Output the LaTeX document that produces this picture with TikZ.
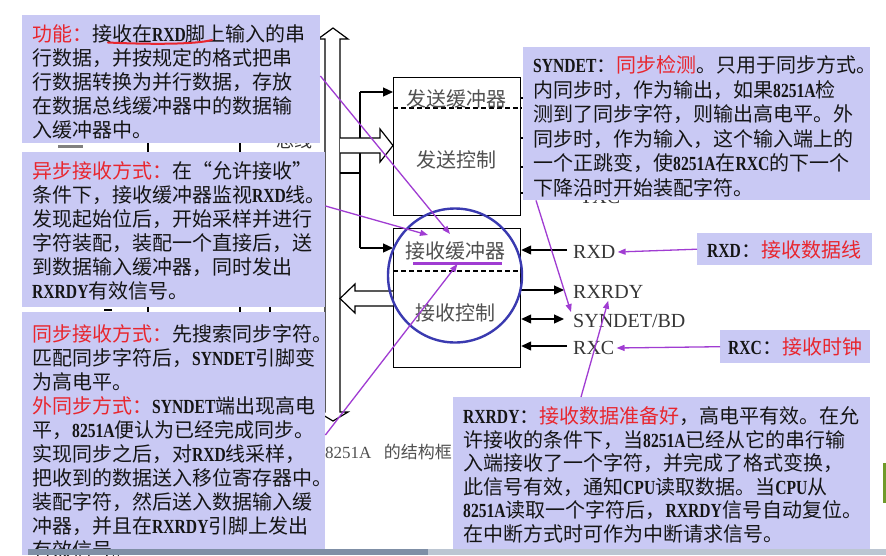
\documentclass[tikz,border=0pt]{standalone}
\usepackage{fontspec}
\usetikzlibrary{arrows.meta,calc}
\newfontfamily\cjk{Noto Sans CJK SC}
\newfontfamily\ltnf[FakeStretch=0.78]{Liberation Serif}
\newfontfamily\lab{Liberation Serif}
\newcommand\ltn[1]{{\ltnf\bfseries #1}}
\definecolor{ink}{HTML}{151515}
\definecolor{hot}{HTML}{E8262E}
\definecolor{note}{HTML}{C9C9F4}
\definecolor{grape}{HTML}{A03CD2}
\definecolor{ringblue}{HTML}{3A3AB0}
\definecolor{labgrey}{HTML}{363636}
\definecolor{blockgrey}{HTML}{505050}
\definecolor{stripdark}{HTML}{7F8FA6}
\definecolor{striplight}{HTML}{BCC6D2}
\definecolor{leaf}{HTML}{6F9A2A}
\newcommand\hot[1]{\textcolor{hot}{#1}}
% one line of a note box per list entry
\newcommand\notelines[5]{%
  \foreach \lne [count=\i] in {#5} {%
    \pgfmathsetmacro\yy{#3+#4*(\i-1)}%
    \node[boxtxt] (#1-\i) at (#2,\yy) {\lne};}}
\tikzset{
  boxtxt/.style={anchor=base west, inner sep=0pt, text=ink,
    font=\cjk\fontsize{20}{24}\selectfont},
  notebox/.style={fill=note, draw=none, anchor=north west, inner sep=0pt},
  block/.style={draw, line width=1.2pt, fill=white, anchor=north west, inner sep=0pt},
  blocktxt/.style={text=blockgrey, font=\cjk\fontsize{20}{24}\selectfont, inner sep=1pt},
  pinlab/.style={text=labgrey, font=\lab\fontsize{20}{24}\selectfont, anchor=west, inner sep=2pt},
  wire/.style={line width=1.2pt},
  pinarrow/.style={line width=1.2pt, -{Triangle[length=10pt,width=9pt]}},
  pinboth/.style={line width=1.2pt, {Triangle[length=10pt,width=9pt]}-{Triangle[length=10pt,width=9pt]}},
  hollow/.style={line width=1.2pt, fill=white, line join=miter},
  pointer/.style={grape, line width=1.3pt, -{Triangle[length=8pt,width=6pt]}},
}
\begin{document}
\begin{tikzpicture}[x=1pt, y=-1pt]
\useasboundingbox (0,0) rectangle (886,555);
\fill[white] (0,0) rectangle (886,555);

% pin lines of the chip that run behind the note boxes
\draw[wire] (148,138) -- (148,318);
\draw[wire] (240,138) -- (240,318);
\draw[wire] (270,295) -- (270,318);
\draw[wire] (104,310) -- (112,310);
\draw[line width=3pt, gray] (58,146) -- (83,146);
\node[text=labgrey, font=\cjk\fontsize{18}{20}\selectfont, inner sep=0pt] (busname) at (294,141) {总线};
\node[text=labgrey, font=\lab\fontsize{20}{24}\selectfont, anchor=base west, inner sep=0pt] (txc) at (580,203.5) {TXC};
\foreach \yy in {98,138,167,193} \draw[wire] (520,\yy) -- (532,\yy);

% internal data bus
\draw[hollow] (325,39) -- (318,39) -- (333,28) -- (348,39) -- (340,39) -- (340,412)
  -- (348,412) -- (333,421) -- (318,412) -- (325,412) -- cycle;
\draw[wire] (360,92) -- (360,248);
\draw[wire] (340,173) -- (360,173);

% transmit and receive blocks
\node[block, minimum width=127pt, minimum height=138pt] (tx) at (393,77) {};
\node[block, minimum width=127pt, minimum height=139pt] (rx) at (393,228) {};
\draw[wire, dash pattern=on 5pt off 3pt] (tx.west |- 0,108) -- (tx.east |- 0,108);
\draw[wire, dash pattern=on 5pt off 3pt] (rx.west |- 0,271) -- (rx.east |- 0,271);
\node[blocktxt] (txbuf) at (456,99) {发送缓冲器};
\node[blocktxt] (txctl) at (456,160) {发送控制};
\node[blocktxt] (rxbuf) at (455,251) {接收缓冲器};
\node[blocktxt] (rxctl) at (455,313) {接收控制};

% bus taps
\coordinate (tapT) at (360,92);
\coordinate (tapR) at (360,248);
\draw[pinarrow] (tapT) -- (tapT -| tx.west);
\draw[pinarrow] (tapR) -- (tapR -| rx.west);
\draw[hollow] (340,138) -- (380,138) -- (380,129) -- (393,145.5) -- (380,162) -- (380,153) -- (340,153);
\draw[hollow] (393,291) -- (355,291) -- (355,284) -- (340,298.5) -- (355,313) -- (355,306) -- (393,306);

% receiver pins
\node[pinlab] (rxdl) at (571,252) {RXD};
\node[pinlab] (rxrdyl) at (571,292) {RXRDY};
\node[pinlab] (syndetl) at (571,321) {SYNDET/BD};
\node[pinlab] (rxcl) at (571,348) {RXC};
\coordinate (pRXD) at (567,250);
\coordinate (pRXRDY) at (564,290);
\coordinate (pSYN) at (564,319);
\coordinate (pRXC) at (567,346);
\draw[pinarrow] (pRXD) -- (pRXD -| rx.east);
\draw[pinarrow] (pRXRDY -| rx.east) -- (pRXRDY);
\draw[pinboth] (pSYN -| rx.east) -- (pSYN);
\draw[pinarrow] (pRXC) -- (pRXC -| rx.east);

% caption
\node[anchor=base west, inner sep=0pt, text=blockgrey] (cap) at (325,458)
  {{\lab\fontsize{17}{20}\selectfont 8251A}\hspace{12.5pt}{\cjk\fontsize{17}{20}\selectfont 的结构框图}};

% note boxes
\node[notebox, minimum width=298pt, minimum height=128pt] (b1) at (22,15) {};
\notelines{b1t}{32}{41.5}{24}{
  {\hot{功能：}接收在\ltn{RXD}脚上输入的串},
  行数据，并按规定的格式把串,
  行数据转换为并行数据，存放,
  在数据总线缓冲器中的数据输,
  入缓冲器中。}
\draw[hot, line width=2pt, line cap=round] (108,42.5) .. controls (150,44.5) and (195,44.5) .. (212,40);

\node[notebox, minimum width=303pt, minimum height=155pt] (b2) at (22,152) {};
\notelines{b2t}{32}{178.5}{24}{
  {\hot{异步接收方式：}在“允许接收”},
  条件下，接收缓冲器监视\ltn{RXD}线。,
  发现起始位后，开始采样并进行,
  字符装配，装配一个直接后，送,
  到数据输入缓冲器，同时发出,
  \ltn{RXRDY}有效信号。}

\node[notebox, minimum width=303pt, minimum height=243pt] (b3) at (22,312) {};
\notelines{b3t}{32}{341.5}{24}{
  {\hot{同步接收方式：}先搜索同步字符。},
  匹配同步字符后，\ltn{SYNDET}引脚变,
  为高电平。,
  {\hot{外同步方式：}\ltn{SYNDET}端出现高电},
  平，\ltn{8251A}便认为已经完成同步。,
  实现同步之后，对\ltn{RXD}线采样，,
  把收到的数据送入移位寄存器中。,
  装配字符，然后送入数据输入缓,
  冲器，并且在\ltn{RXRDY}引脚上发出,
  有效信号。}

\node[notebox, minimum width=347pt, minimum height=153pt] (b4) at (523,47) {};
\notelines{b4t}{533}{72.5}{24.6}{
  {\ltn{SYNDET}：\hot{同步检测}。只用于同步方式。},
  内同步时，作为输出，如果\ltn{8251A}检,
  测到了同步字符，则输出高电平。外,
  同步时，作为输入，这个输入端上的,
  一个正跳变，使\ltn{8251A}在\ltn{RXC}的下一个,
  下降沿时开始装配字符。}

\node[notebox, minimum width=417pt, minimum height=158pt] (b5) at (453,397) {};
\notelines{b5t}{463}{423.5}{23.6}{
  {\ltn{RXRDY}：\hot{接收数据准备好}，高电平有效。在允},
  许接收的条件下，当\ltn{8251A}已经从它的串行输,
  入端接收了一个字符，并完成了格式变换，,
  此信号有效，通知\ltn{CPU}读取数据。当\ltn{CPU}从,
  \ltn{8251A}读取一个字符后，\ltn{RXRDY}信号自动复位。,
  在中断方式时可作为中断请求信号。}

\node[notebox, minimum width=175pt, minimum height=32pt] (b6) at (697,233) {};
\node[boxtxt] (b6t) at (707,257.5) {\ltn{RXD}：\hot{接收数据线}};
\node[notebox, minimum width=150pt, minimum height=33pt] (b7) at (720,330) {};
\node[boxtxt] (b7t) at (728,354.5) {\ltn{RXC}：\hot{接收时钟}};

% highlight ring and pointers
\node[draw=ringblue, line width=2.4pt, circle, minimum size=134pt, inner sep=0pt] (ring) at (455,275.5) {};
\coordinate (ulA) at (413,263);
\coordinate (ulB) at (502,263);
\draw[grape, line width=3pt] (ulA) -- (ulB);
\coordinate (tipA) at (450,234);
\coordinate (tipB) at (428,235);
\draw[pointer] ($(b1.north east)+(0,61)$) -- (tipA);
\draw[pointer] ($(b2.north east)+(0,54)$) -- (tipB);
\draw[pointer] ($(b3.north east)+(0,123)$) -- ($(ulA)!0.5!(ulB)+(0,1)$);
\draw[pointer] ($(b4.south west)+(13,0)$) -- (syndetl.north west);
\draw[pointer] ($(b5.north west)+(128,0)$) -- (rxrdyl.south);
\draw[pointer] (b6.west) -- (rxdl.east);
\draw[pointer] (b7.west) -- (rxcl.east);

% window edge details
\fill[stripdark] (28,549) rectangle (428,555);
\fill[striplight] (428,549) rectangle (886,555);
\fill[leaf] (883,463) rectangle (886,503);
\end{tikzpicture}
\end{document}
